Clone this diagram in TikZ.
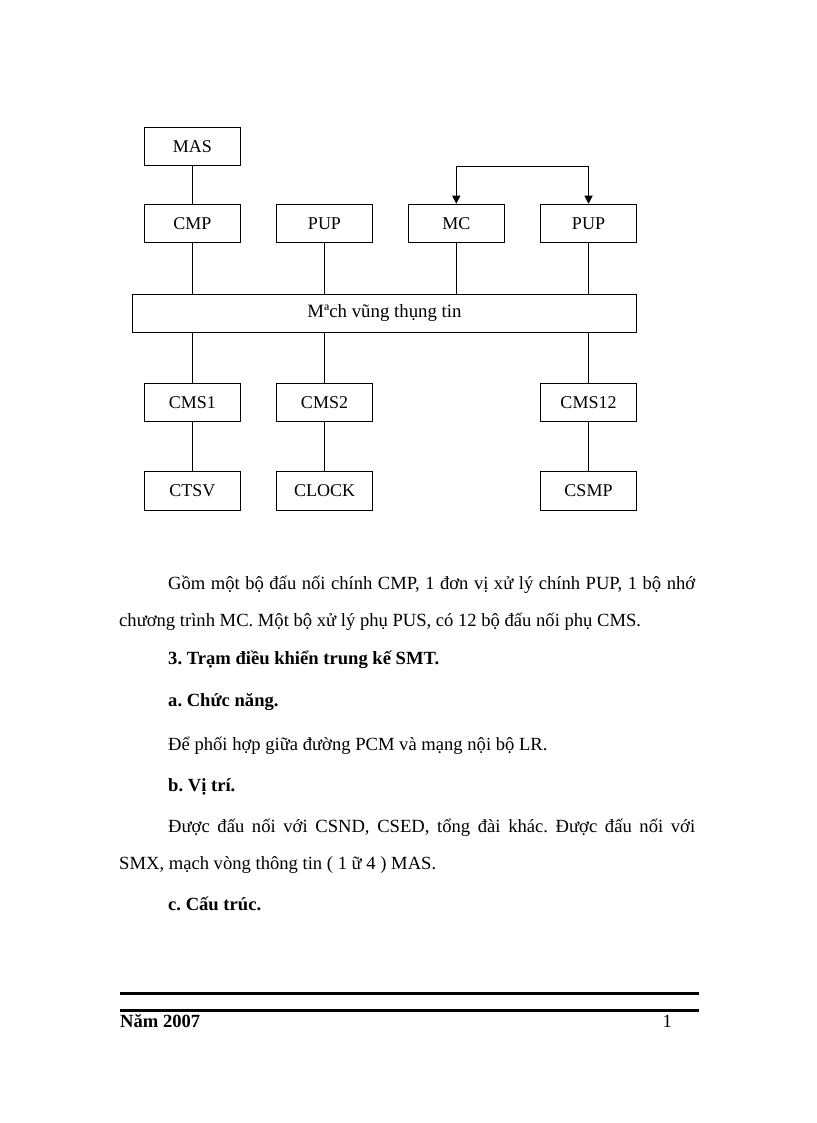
\documentclass[tikz,border=0pt]{standalone}
\usepackage{fontspec}
\setmainfont{Liberation Serif}
\usetikzlibrary{arrows.meta}
\frenchspacing
\begin{document}
\begin{tikzpicture}[x=1pt,y=-1pt,
  box/.style={draw,line width=1pt,minimum width=96.5pt,minimum height=38.5pt,inner sep=0pt,font=\fontsize{18}{20}\selectfont},
  bus/.style={draw,line width=1pt,minimum width=504.4pt,minimum height=38pt,inner sep=0pt,font=\fontsize{18.8}{20}\selectfont},
  wire/.style={line width=1pt},
  arr/.style={line width=1pt,{Triangle[length=8pt,width=8pt]}-{Triangle[length=8pt,width=8pt]}},
  body/.style={anchor=base west,inner sep=0pt,font=\fontsize{18.6}{22}\selectfont},
  rule/.style={line width=3pt}]
\useasboundingbox (0,0) rectangle (816,1123);
\fill[white] (0,0) rectangle (816,1123);
% diagram
\node[box] (mas) at (192.3,146.7) {MAS};
\node[box] (cmp) at (192.3,223.5) {CMP};
\node[box] (pup1) at (324.5,223.5) {PUP};
\node[box] (mc) at (456.3,223.5) {MC};
\node[box] (pup2) at (588.5,223.5) {PUP};
\node[bus] (ring) at (384.5,313) {Mªch vũng thụng tin};
\node[box] (cms1) at (192.3,402.5) {CMS1};
\node[box] (cms2) at (324.5,402.5) {CMS2};
\node[box] (cms12) at (588.5,402.5) {CMS12};
\node[box] (ctsv) at (192.3,491) {CTSV};
\node[box] (clock) at (324.5,491) {CLOCK};
\node[box] (csmp) at (588.5,491) {CSMP};
\draw[wire] (mas) -- (cmp);
\draw[wire] (cmp) -- (cmp |- ring.north);
\draw[wire] (pup1) -- (pup1 |- ring.north);
\draw[wire] (mc) -- (mc |- ring.north);
\draw[wire] (pup2) -- (pup2 |- ring.north);
\draw[wire] (cms1 |- ring.south) -- (cms1);
\draw[wire] (cms2 |- ring.south) -- (cms2);
\draw[wire] (cms12 |- ring.south) -- (cms12);
\draw[wire] (cms1) -- (ctsv);
\draw[wire] (cms2) -- (clock);
\draw[wire] (cms12) -- (csmp);
\coordinate (top) at (mc.north |- mas.south);
\draw[arr] (mc.north) -- (top) -| (pup2.north);
% text
\node[body] (t1) at (168,589.5) {\makebox[527pt][s]{Gồm một bộ đấu nối chính CMP, 1 đơn vị xử lý chính PUP, 1 bộ nhớ}};
\node[body] (t2) at (119,626.7) {chương trình MC. Một bộ xử lý phụ PUS, có 12 bộ đấu nối phụ CMS.};
\node[body] (t3) at (168,664) {\bfseries 3. Trạm điều khiển trung kế SMT.};
\node[body] (t4) at (168,706.7) {\bfseries a. Chức năng.};
\node[body] (t5) at (168,750.5) {Để phối hợp giữa đường PCM và mạng nội bộ LR.};
\node[body] (t6) at (168,791.5) {\bfseries b. Vị trí.};
\node[body] (t7) at (168,832.5) {\makebox[527pt][s]{Được đấu nối với CSND, CSED, tổng đài khác. Được đấu nối với}};
\node[body] (t8) at (119,869) {SMX, mạch vòng thông tin ( 1 ữ 4 ) MAS.};
\node[body] (t9) at (168,910.5) {\bfseries c. Cấu trúc.};
% footer
\coordinate (r1a) at (120,993.7);
\coordinate (r1b) at (699,993.7);
\coordinate (r2a) at (120,1010);
\coordinate (r2b) at (699,1010);
\draw[rule] (r1a) -- (r1b);
\draw[rule] (r2a) -- (r2b);
\node[body] (year) at (120,1027.5) {\bfseries Năm 2007};
\node[body,anchor=base east] (page) at (672,1027.5) {1};
\end{tikzpicture}
\end{document}
